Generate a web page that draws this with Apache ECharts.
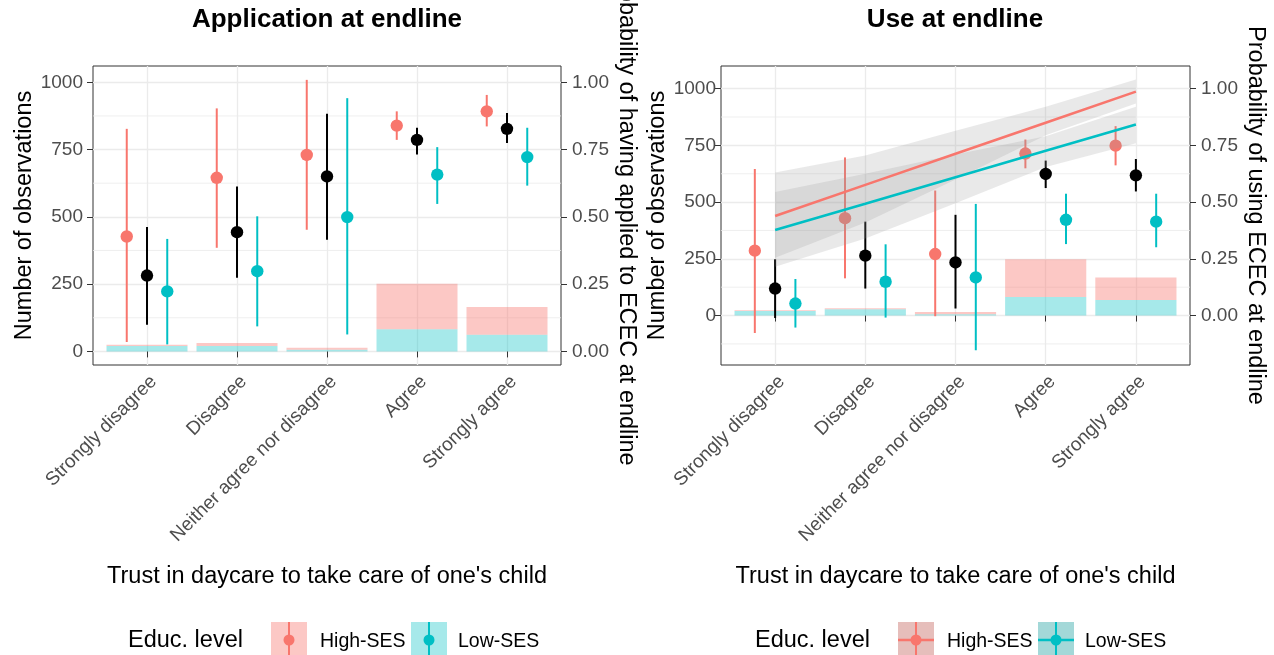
<!DOCTYPE html>
<html><head><meta charset="utf-8">
<script src="https://cdn.jsdelivr.net/npm/echarts@6/dist/echarts.min.js"></script>
<style>html,body{margin:0;padding:0;background:#fff;}#c{width:1274px;height:655px;}</style>
</head><body><div id="c"></div>
<script>
// ---------- data ----------
const categories = ["Strongly disagree", "Disagree", "Neither agree nor disagree", "Agree", "Strongly agree"];
const countTicks = [0, 250, 500, 750, 1000];
const countMinorApp = [125, 375, 625, 875];
const countMinorUse = [-125, 125, 375, 625, 875];
const probTicks = [0, 0.25, 0.5, 0.75, 1];
const catTicks = [1, 2, 3, 4, 5];

// Application panel: counts (stacked bars, Low-SES at bottom)
const appCountLow = [20, 20, 6, 82, 62];
const appCountHigh = [5, 11, 8, 169, 103];
// Application panel: estimated probabilities with intervals
const appHighMid = [0.427, 0.645, 0.730, 0.839, 0.892];
const appHighLo = [0.035, 0.385, 0.452, 0.786, 0.836];
const appHighHi = [0.827, 0.903, 1.009, 0.892, 0.953];
const appAllMid = [0.282, 0.443, 0.650, 0.786, 0.827];
const appAllLo = [0.099, 0.274, 0.415, 0.732, 0.774];
const appAllHi = [0.462, 0.613, 0.883, 0.831, 0.886];
const appLowMid = [0.223, 0.298, 0.499, 0.657, 0.722];
const appLowLo = [0.026, 0.093, 0.063, 0.548, 0.616];
const appLowHi = [0.418, 0.502, 0.941, 0.759, 0.831];

// Use panel: counts
const useCountLow = [20, 28, 6, 82, 68];
const useCountHigh = [3, 4, 10, 166, 100];
// Use panel: estimates
const useHighMid = [0.286, 0.429, 0.271, 0.714, 0.749];
const useHighLo = [-0.077, 0.164, -0.003, 0.649, 0.662];
const useHighHi = [0.646, 0.697, 0.551, 0.776, 0.835];
const useAllMid = [0.119, 0.264, 0.234, 0.624, 0.618];
const useAllLo = [-0.011, 0.119, 0.031, 0.562, 0.547];
const useAllHi = [0.248, 0.414, 0.444, 0.683, 0.690];
const useLowMid = [0.053, 0.149, 0.168, 0.422, 0.414];
const useLowLo = [-0.053, -0.009, -0.153, 0.315, 0.301];
const useLowHi = [0.161, 0.314, 0.492, 0.537, 0.537];
// Use panel: linear fits with ribbons
const fitHigh = [0.439, 0.576, 0.713, 0.850, 0.987];
const fitHighLower = [0.255, 0.410, 0.600, 0.795, 0.935];
const fitHighUpper = [0.630, 0.705, 0.815, 0.920, 1.040];
const fitLow = [0.377, 0.493, 0.610, 0.726, 0.842];
const fitLowLower = [0.215, 0.340, 0.495, 0.655, 0.760];
const fitLowUpper = [0.545, 0.625, 0.710, 0.790, 0.920];

// ---------- styling ----------
const FONT = '"Liberation Sans", Arial, sans-serif';
const PINK = '#F8766D', TEAL = '#00BFC4', BLACK = '#000000';
const PINK_BAR = 'rgba(248,118,109,0.4)', TEAL_BAR = 'rgba(0,191,196,0.35)';
const RIBBON = 'rgba(153,153,153,0.22)';
const GRID_COL = '#EBEBEB';
const DODGE = 0.225;
const BAR_W = 0.9;

const chart = echarts.init(document.getElementById('c'), null, {renderer: 'canvas'});

function xAxisDef(gi) {
  return {
    type: 'value', gridIndex: gi, min: 0.4, max: 5.6,
    axisLine: {show: false},
    axisTick: {show: true, customValues: catTicks, length: 6, lineStyle: {color: '#333', width: 1}},
    axisLabel: {customValues: catTicks, formatter: v => categories[Math.round(v) - 1],
      rotate: 45, verticalAlign: 'top', fontSize: 19, color: '#4D4D4D', fontFamily: FONT, margin: 7},
    splitLine: {show: true, lineStyle: {color: GRID_COL, width: 1.3}},
    name: "Trust in daycare to take care of one's child", nameLocation: 'middle', nameGap: 200,
    nameTextStyle: {fontSize: 23.5, color: '#000', fontFamily: FONT}
  };
}
function yCountDef(gi, min, max, margin, gap) {
  return {
    type: 'value', gridIndex: gi, position: 'left', min: min, max: max,
    axisLine: {show: false},
    axisTick: {show: true, customValues: countTicks, length: 6, lineStyle: {color: '#333', width: 1}},
    axisLabel: {customValues: countTicks, formatter: v => String(v), fontSize: 19, color: '#4D4D4D', fontFamily: FONT, margin: margin},
    splitLine: {show: true, lineStyle: {color: GRID_COL, width: 1.3}},
    name: 'Number of observations', nameLocation: 'middle', nameRotate: 90, nameGap: gap,
    nameTextStyle: {fontSize: 23.5, color: '#000', fontFamily: FONT}
  };
}
function yProbDef(gi, min, max, name, gap) {
  return {
    type: 'value', gridIndex: gi, position: 'right', min: min, max: max,
    axisLine: {show: false},
    axisTick: {show: true, customValues: probTicks, length: 6, lineStyle: {color: '#333', width: 1}},
    axisLabel: {customValues: probTicks, formatter: v => v.toFixed(2), fontSize: 19, color: '#4D4D4D', fontFamily: FONT, margin: 11},
    splitLine: {show: false},
    name: name, nameLocation: 'middle', nameRotate: -90, nameGap: gap,
    nameTextStyle: {fontSize: 23.5, color: '#000', fontFamily: FONT}
  };
}

function minorGrid(xi, yi, values) {
  return {
    type: 'custom', xAxisIndex: xi, yAxisIndex: yi, z: 1, silent: true,
    data: values.map(v => [v]), dimensions: ['y'], encode: {y: 0},
    renderItem: (params, api) => {
      const a = api.coord([0.4, api.value(0)]);
      const b = api.coord([5.6, api.value(0)]);
      return {type: 'line', shape: {x1: a[0], y1: a[1], x2: b[0], y2: b[1]},
        style: {stroke: GRID_COL, lineWidth: 0.8}};
    }
  };
}
// stacked bars: Low-SES at the bottom, High-SES on top
function stackedBars(xi, yi, low, high) {
  return {
    type: 'custom', xAxisIndex: xi, yAxisIndex: yi, z: 2, silent: true,
    data: low.map((v, i) => [catTicks[i], v, high[i]]),
    encode: {x: 0, y: [1, 2]},
    renderItem: (params, api) => {
      const x = api.value(0), lo = api.value(1), hi = api.value(2);
      const a0 = api.coord([x - BAR_W / 2, 0]);
      const a1 = api.coord([x + BAR_W / 2, lo]);
      const b1 = api.coord([x + BAR_W / 2, lo + hi]);
      return {type: 'group', children: [
        {type: 'rect', shape: {x: a0[0], y: a1[1], width: a1[0] - a0[0], height: a0[1] - a1[1]}, style: {fill: TEAL_BAR}},
        {type: 'rect', shape: {x: a0[0], y: b1[1], width: a1[0] - a0[0], height: a1[1] - b1[1]}, style: {fill: PINK_BAR}}
      ]};
    }
  };
}
function pointRange(xi, yi, mid, lo, hi, offset, color) {
  return {
    type: 'custom', xAxisIndex: xi, yAxisIndex: yi, z: 3, silent: true, clip: false,
    data: mid.map((v, i) => [catTicks[i], v, lo[i], hi[i]]),
    encode: {x: 0, y: [1, 2, 3]},
    renderItem: (params, api) => {
      const x = api.value(0) + offset;
      const p = api.coord([x, api.value(1)]);
      const l = api.coord([x, api.value(2)]);
      const h = api.coord([x, api.value(3)]);
      return {type: 'group', children: [
        {type: 'line', shape: {x1: l[0], y1: l[1], x2: h[0], y2: h[1]}, style: {stroke: color, lineWidth: 2}},
        {type: 'circle', shape: {cx: p[0], cy: p[1], r: 6.2}, style: {fill: color}}
      ]};
    }
  };
}
function ribbon(xi, yi, lower, upper) {
  return {
    type: 'custom', xAxisIndex: xi, yAxisIndex: yi, z: 4, silent: true,
    data: lower.map((v, i) => [catTicks[i], v, upper[i]]),
    encode: {x: 0, y: [1, 2]},
    renderItem: (params, api) => {
      if (params.dataIndex !== 0) return null;
      const n = lower.length, pts = [];
      for (let i = 0; i < n; i++) pts.push(api.coord([api.value(0, i), api.value(2, i)]));
      for (let i = n - 1; i >= 0; i--) pts.push(api.coord([api.value(0, i), api.value(1, i)]));
      return {type: 'polygon', shape: {points: pts}, style: {fill: RIBBON}};
    }
  };
}
function fitLine(xi, yi, vals, color) {
  return {
    type: 'line', xAxisIndex: xi, yAxisIndex: yi, z: 5, silent: true, showSymbol: false, symbol: 'none',
    lineStyle: {color: color, width: 2.6}, data: vals.map((v, i) => [catTicks[i], v])
  };
}

// ---------- legend (graphic) ----------
function legend(x0, withFit) {
  const g = [];
  const t = (x, y, text, size) => ({type: 'text', x: x, y: y, silent: true,
    style: {text: text, fill: '#000', font: size + 'px ' + FONT, textAlign: 'left', align: 'left', textVerticalAlign: 'middle', verticalAlign: 'middle'}});
  const key = (kx, bg, color) => {
    g.push({type: 'rect', shape: {x: kx, y: 622, width: 36, height: 36}, style: {fill: bg}, silent: true});
    if (withFit) g.push({type: 'rect', shape: {x: kx, y: 622, width: 36, height: 36}, style: {fill: RIBBON}, silent: true});
    g.push({type: 'line', shape: {x1: kx + 18, y1: 622, x2: kx + 18, y2: 658}, style: {stroke: color, lineWidth: 2}, silent: true});
    if (withFit) g.push({type: 'line', shape: {x1: kx, y1: 640, x2: kx + 36, y2: 640}, style: {stroke: color, lineWidth: 2.6}, silent: true});
    g.push({type: 'circle', shape: {cx: kx + 18, cy: 640, r: 5.5}, style: {fill: color}, silent: true});
  };
  g.push(t(x0, 641, 'Educ. level', 23.5));
  key(x0 + 143, PINK_BAR, PINK);
  g.push(t(x0 + 192, 642, 'High-SES', 19.5));
  key(x0 + 283, TEAL_BAR, TEAL);
  g.push(t(x0 + 330, 642, 'Low-SES', 19.5));
  return g;
}

const graphics = [
  {type: 'text', x: 327, y: 20, silent: true, style: {text: 'Application at endline', fill: '#000',
    font: 'bold 26px ' + FONT, textAlign: 'center', align: 'center', textVerticalAlign: 'middle', verticalAlign: 'middle'}},
  {type: 'text', x: 955, y: 20, silent: true, style: {text: 'Use at endline', fill: '#000',
    font: 'bold 26px ' + FONT, textAlign: 'center', align: 'center', textVerticalAlign: 'middle', verticalAlign: 'middle'}}
].concat(legend(128, false), legend(755, true));

const gridBase = {show: true, borderColor: '#333', borderWidth: 1, backgroundColor: 'transparent',
  containLabel: false, outerBoundsMode: 'none'};
const option = {
  animation: false,
  backgroundColor: '#fff',
  grid: [
    Object.assign({left: 93, top: 66, width: 468, height: 299}, gridBase),
    Object.assign({left: 721, top: 66, width: 469, height: 299}, gridBase)
  ],
  xAxis: [xAxisDef(0), xAxisDef(1)],
  yAxis: [
    yCountDef(0, -50.5, 1060.5, 10, 55),
    yProbDef(0, -0.0505, 1.0605, 'Probability of having applied to ECEC at endline', 53),
    yCountDef(1, -218, 1100, 5, 51),
    yProbDef(1, -0.218, 1.100, 'Probability of using ECEC at endline', 53)
  ],
  series: [
    minorGrid(0, 0, countMinorApp),
    stackedBars(0, 0, appCountLow, appCountHigh),
    pointRange(0, 1, appHighMid, appHighLo, appHighHi, -DODGE, PINK),
    pointRange(0, 1, appAllMid, appAllLo, appAllHi, 0, BLACK),
    pointRange(0, 1, appLowMid, appLowLo, appLowHi, DODGE, TEAL),

    minorGrid(1, 2, countMinorUse),
    stackedBars(1, 2, useCountLow, useCountHigh),
    pointRange(1, 3, useHighMid, useHighLo, useHighHi, -DODGE, PINK),
    pointRange(1, 3, useAllMid, useAllLo, useAllHi, 0, BLACK),
    pointRange(1, 3, useLowMid, useLowLo, useLowHi, DODGE, TEAL),
    ribbon(1, 3, fitHighLower, fitHighUpper),
    ribbon(1, 3, fitLowLower, fitLowUpper),
    fitLine(1, 3, fitHigh, PINK),
    fitLine(1, 3, fitLow, TEAL)
  ],
  graphic: {elements: graphics}
};
chart.setOption(option);
</script>
</body></html>
